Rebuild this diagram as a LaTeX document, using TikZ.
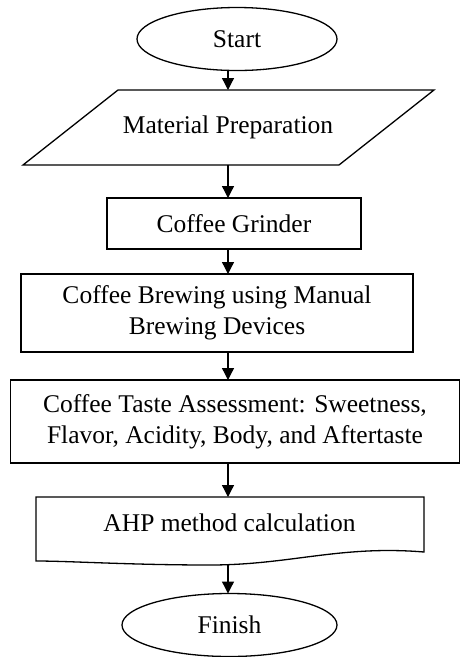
\documentclass[tikz,border=0pt]{standalone}
\usepackage{fontspec}
\setmainfont{Liberation Serif}
\usetikzlibrary{shapes.geometric,arrows.meta}
\begin{document}
\begin{tikzpicture}[x=1pt,y=-1pt,
  line width=1.3pt,
  every node/.style={font=\fontsize{25.5}{31}\selectfont, align=center, inner sep=0pt, outer sep=0pt},
  term/.style={draw, ellipse, minimum height=63pt},
  procbox/.style={draw, rectangle},
  arr/.style={-{Triangle[length=12pt,width=12pt]}}
]
\useasboundingbox (0,0) rectangle (461,657);
\coordinate (ax) at (228,0);
% Start
\node[term, minimum width=200pt] (start) at (237,39) {Start};
% Material Preparation (parallelogram)
\draw (118,90) -- (434,90) -- (339,165) -- (23,165) -- cycle;
\node[minimum width=200pt, minimum height=75pt] (pp) at (228,127.5) {Material Preparation};
% Coffee Grinder
\node[procbox, minimum width=254pt, minimum height=51pt] (grind) at (234,223.5) {Coffee Grinder};
% Brewing
\node[procbox, minimum width=392pt, minimum height=78pt] (brew) at (217,313) {Coffee Brewing using Manual\\Brewing Devices};
% Taste
\node[procbox, minimum width=449pt, minimum height=83pt] (taste) at (235,421.5) {Coffee Taste Assessment: Sweetness,\\Flavor, Acidity, Body, and Aftertaste};
% AHP (document shape)
\draw (36,497) -- (424,497) -- (424,552)
  .. controls (340,545) and (290,565) .. (210,565)
  .. controls (130,565) and (70,561) .. (36,561) -- cycle;
\node[minimum width=300pt, minimum height=52pt] (ahp) at (229.5,523) {AHP method calculation};
\coordinate (ahpb) at (228,564.5);
% Finish
\node[term, minimum width=215pt] (finish) at (229.5,625) {Finish};
% Connectors
\draw[arr] (start.south -| ax) -- (pp.north -| ax);
\draw[arr] (pp.south -| ax) -- (grind.north -| ax);
\draw[arr] (grind.south -| ax) -- (brew.north -| ax);
\draw[arr] (brew.south -| ax) -- (taste.north -| ax);
\draw[arr] (taste.south -| ax) -- (ahp.north -| ax);
\draw[arr] (ahpb) -- (finish.north -| ax);
\end{tikzpicture}
\end{document}
